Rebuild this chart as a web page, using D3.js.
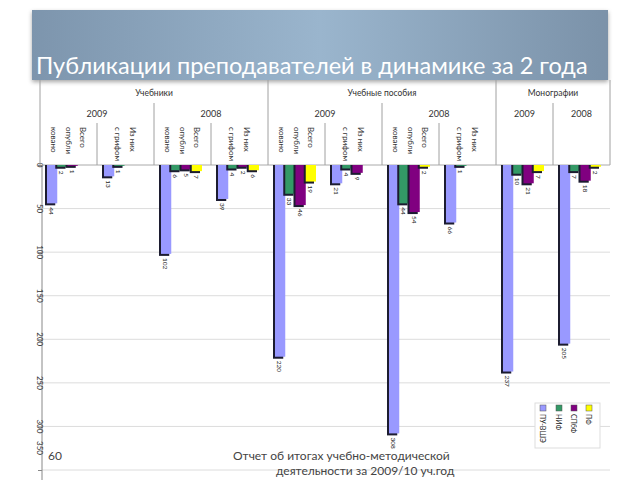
<!DOCTYPE html>
<html>
<head>
<meta charset="utf-8">
<script src="https://cdn.jsdelivr.net/npm/d3@7"></script>
<style>
  html, body { margin: 0; padding: 0; background: #fff; }
  svg { display: block; }
</style>
</head>
<body>
<svg id="chart" width="640" height="480"></svg>
<script>
// ---------------- data ----------------
const titleText = "Публикации преподавателей в динамике за 2 года";
const level1 = ["Учебники","Учебники","Учебники","Учебники",
                "Учебные пособия","Учебные пособия","Учебные пособия","Учебные пособия",
                "Монографии","Монографии"];
const level2 = ["2009","2009","2008","2008","2009","2009","2008","2008","2009","2008"];
const level3 = ["Всего опубликовано","Из них с грифом","Всего опубликовано","Из них с грифом",
                "Всего опубликовано","Из них с грифом","Всего опубликовано","Из них с грифом","",""];
const level3Lines = {"Всего опубликовано": ["Всего","опубли","ковано"], "Из них с грифом": ["Из них","с грифом"]};
const seriesNames = ["ПУ-ВШЭ","НИФ","СПбФ","ПФ"];
const valuesPU  = [44, 13, 102, 39, 220, 21, 308, 66, 237, 205];
const valuesNIF = [2, 1, 6, 4, 33, 4, 44, 1, 10, 7];
const valuesSPB = [1, null, 5, 2, 46, 9, 54, null, 21, 18];
const valuesPF  = [null, null, 7, 6, 19, null, 2, null, 7, 2];
const yTicks = [0, 50, 100, 150, 200, 250, 300, 350];
const footerPage = "60";
const footerLines = ["Отчет об итогах учебно-методической", "деятельности за 2009/10 уч.год"];

const seriesValues = [valuesPU, valuesNIF, valuesSPB, valuesPF];
const colors = ["#9999ff", "#339966", "#800080", "#ffff00"];

// ---------------- setup ----------------
const svg = d3.select("#chart");
const font = "Lato, 'Open Sans', sans-serif";

// Title banner
const defs = svg.append("defs");
const grad = defs.append("linearGradient").attr("id", "tg").attr("x1", "0").attr("x2", "1").attr("y1", "0").attr("y2", "0");
grad.append("stop").attr("offset", "0%").attr("stop-color", "#7d95ad");
grad.append("stop").attr("offset", "50%").attr("stop-color", "#9ab5cd");
grad.append("stop").attr("offset", "100%").attr("stop-color", "#7b92a9");
const sh = defs.append("filter").attr("id", "sh").attr("x", "-5%").attr("y", "-20%").attr("width", "110%").attr("height", "150%");
sh.append("feDropShadow").attr("dx", 0).attr("dy", 2).attr("stdDeviation", 2).attr("flood-color", "#000").attr("flood-opacity", 0.35);

svg.append("rect").attr("x", 32).attr("y", 10).attr("width", 576).attr("height", 70)
  .attr("fill", "url(#tg)").attr("filter", "url(#sh)");
svg.append("text").attr("x", 36).attr("y", 74).attr("fill", "#fff")
  .attr("font-family", font).attr("font-size", 23.5).text(titleText);

// ---------------- scales ----------------
const x0 = d3.scaleBand().domain(d3.range(level1.length)).range([40, 610]).padding(0);
const x1 = d3.scaleBand().domain(d3.range(seriesNames.length)).range([7, 48]).padding(0);
const y = d3.scaleLinear().domain([0, 350]).range([165, 470]);

// gridlines
const g = svg.append("g");
g.selectAll("line.grid").data(yTicks.filter(t => t > 0)).join("line")
  .attr("x1", 42).attr("x2", 610).attr("y1", d => y(d)).attr("y2", d => y(d))
  .attr("stroke", "#dcdcdc").attr("stroke-width", 1);

// y axis
const yAxis = d3.axisLeft(y).tickValues(yTicks).tickSize(4).tickFormat("");
const ya = svg.append("g").attr("transform", "translate(42,0)").call(yAxis);
ya.select(".domain").attr("stroke", "#888").attr("d", "M-0,165V480");
ya.selectAll(".tick line").attr("stroke", "#888");
svg.selectAll("text.ytl").data(yTicks).join("text").attr("class", "ytl")
  .attr("transform", d => `translate(37,${Math.min(y(d), 448)}) rotate(90)`)
  .attr("text-anchor", "middle").attr("font-family", font).attr("font-size", 8).attr("fill", "#333")
  .text(d => d);

// baseline
svg.append("line").attr("x1", 42).attr("x2", 610).attr("y1", y(0)).attr("y2", y(0)).attr("stroke", "#aaa");

// ---------------- header (multi-level category axis) ----------------
const hdr = svg.append("g");
const lineColor = "#a0a0a0";
for (let i = 0; i <= level1.length; i++) {
  let top;
  const xpos = i < level1.length ? x0(i) : x0.range()[1];
  if (i === 0 || i === level1.length || level1[i] !== level1[i - 1]) top = 80;
  else if (level2[i] !== level2[i - 1]) top = 103;
  else top = 123;
  hdr.append("line").attr("x1", xpos).attr("x2", xpos).attr("y1", top).attr("y2", 165)
    .attr("stroke", lineColor).attr("stroke-width", 1);
}
const groupsL1 = d3.groups(d3.range(level1.length), i => level1[i]);
groupsL1.forEach(([name, idx]) => {
  const cx = (x0(idx[0]) + x0(idx[idx.length - 1]) + x0.bandwidth()) / 2;
  hdr.append("text").attr("x", cx).attr("y", 96).attr("text-anchor", "middle")
    .attr("font-family", font).attr("font-size", 8.5).attr("fill", "#333").text(name);
});
const groupsL2 = [];
d3.range(level1.length).forEach(i => {
  const last = groupsL2[groupsL2.length - 1];
  if (last && level1[last.i0] === level1[i] && level2[last.i0] === level2[i]) last.i1 = i;
  else groupsL2.push({ i0: i, i1: i });
});
groupsL2.forEach(gr => {
  const cx = (x0(gr.i0) + x0(gr.i1) + x0.bandwidth()) / 2;
  hdr.append("text").attr("x", cx).attr("y", 117).attr("text-anchor", "middle")
    .attr("font-family", font).attr("font-size", 9).attr("fill", "#333").text(level2[gr.i0]);
});
level3.forEach((lab, i) => {
  if (!lab) return;
  const lines = level3Lines[lab];
  const cx = x0(i) + x0.bandwidth() / 2;
  const n = lines.length;
  const step = 14.5;
  lines.forEach((ln, k) => {
    const lx = cx + ((n - 1) / 2 - k) * step;
    hdr.append("text").attr("transform", `translate(${lx - 3},127) rotate(90)`)
      .attr("font-family", font).attr("font-size", 8).attr("fill", "#333").text(ln);
  });
});

// ---------------- bars ----------------
const bars = svg.append("g");
level1.forEach((_, i) => {
  seriesValues.forEach((vals, s) => {
    const v = vals[i];
    if (v == null || v === 0) return;
    const bx = x0(i) + x1(s);
    const bw = x1.bandwidth();
    const y0 = y(0), y1 = y(v);
    bars.append("rect").attr("x", bx - 2).attr("y", y0).attr("width", bw).attr("height", y1 - y0 + 2)
      .attr("fill", "#1c1c30");
    bars.append("rect").attr("x", bx).attr("y", y0).attr("width", bw).attr("height", y1 - y0)
      .attr("fill", colors[s]);
    bars.append("text").attr("transform", `translate(${bx + bw / 2 - 3},${y1 + 4}) rotate(90)`)
      .attr("font-family", font).attr("font-size", 6.5).attr("fill", "#222").text(v);
  });
});

// ---------------- legend ----------------
const lg = svg.append("g");
lg.append("rect").attr("x", 535).attr("y", 403).attr("width", 65).attr("height", 45)
  .attr("fill", "#fff").attr("stroke", "#ddd");
const legendX = [543, 559, 574, 589];
seriesNames.forEach((name, s) => {
  lg.append("rect").attr("x", legendX[s] - 3).attr("y", 405).attr("width", 6).attr("height", 6)
    .attr("fill", colors[s]).attr("stroke", "#555").attr("stroke-width", 0.5);
  lg.append("text").attr("transform", `translate(${legendX[s] - 3},414) rotate(90)`)
    .attr("font-family", font).attr("font-size", 7).attr("fill", "#222").text(name);
});

// ---------------- footer ----------------
svg.append("text").attr("x", 48).attr("y", 460).attr("font-family", font).attr("font-size", 12)
  .attr("fill", "#444").text(footerPage);
svg.append("text").attr("x", 233).attr("y", 460).attr("font-family", font).attr("font-size", 12)
  .attr("fill", "#444").text(footerLines[0]);
svg.append("text").attr("x", 276).attr("y", 475).attr("font-family", font).attr("font-size", 12)
  .attr("fill", "#444").text(footerLines[1]);
</script>
</body>
</html>
